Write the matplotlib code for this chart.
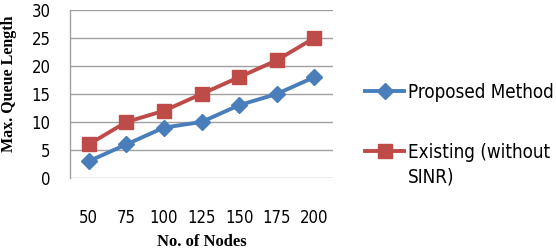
import matplotlib
matplotlib.use("Agg")
import matplotlib.pyplot as plt
from matplotlib import font_manager
from matplotlib.lines import Line2D

nodes = ["50", "75", "100", "125", "150", "175", "200"]
proposed = [3, 6, 9, 10, 13, 15, 18]
existing = [6, 10, 12, 15, 18, 21, 25]
yticks = [0, 5, 10, 15, 20, 25, 30]
label_proposed = "Proposed Method"
label_existing_1 = "Existing (without"
label_existing_2 = "SINR)"
xlabel = "No. of Nodes"
ylabel = "Max. Queue Length"

BLUE = "#4A7EBB"
RED = "#BE4B48"
GRID = "#A0A0A0"

# find condensed DejaVu Sans if available
cond_path = None
for f in font_manager.fontManager.ttflist:
    if f.name == "DejaVu Sans" and str(f.stretch) in ("condensed", "semi-condensed", "75", "87") and f.weight in (400, "normal") and f.style == "normal":
        cond_path = f.fname
        break
    if f.name == "DejaVu Sans Condensed" and f.style == "normal" and f.weight in (400, "normal"):
        cond_path = f.fname
        break

if cond_path:
    def sans(size):
        return font_manager.FontProperties(fname=cond_path, size=size)
    tick_size, leg_size = 12, 13.5
else:
    def sans(size):
        return font_manager.FontProperties(family="DejaVu Sans", size=size)
    tick_size, leg_size = 11, 12

serif_bold = font_manager.FontProperties(family="Liberation Serif", weight="bold", size=11.5)

W, H = 556, 250
fig = plt.figure(figsize=(W / 100, H / 100), dpi=100)
ax = fig.add_axes([70 / W, 1 - 178 / H, (333 - 70) / W, (178 - 10) / H])

x = list(range(len(nodes)))
ax.plot(x, existing, color=RED, lw=2.8, marker="s", ms=10.5, mfc=RED, mec=RED, zorder=3)
ax.plot(x, proposed, color=BLUE, lw=2.8, marker="D", ms=8, mfc=BLUE, mec=BLUE, zorder=4)

ax.set_xlim(-0.5, len(nodes) - 0.5)
ax.set_ylim(0, 30)
ax.set_yticks(yticks)
ax.set_xticks(x)
ax.set_xticklabels(nodes)
for lab in ax.get_xticklabels() + ax.get_yticklabels():
    lab.set_fontproperties(sans(tick_size))
ax.tick_params(axis="y", length=0, pad=14)
ax.tick_params(axis="x", length=0, pad=22)
ax.yaxis.grid(True, color=GRID, lw=1)
ax.set_axisbelow(True)
for s in ("top", "right", "bottom"):
    ax.spines[s].set_visible(False)
ax.spines["left"].set_color(GRID)
ax.spines["left"].set_linewidth(1)
ax.patch.set_visible(False)

xl_fp = serif_bold.copy()
xl_fp.set_size(12)
fig.text(202 / W, 1 - 245.5 / H, xlabel, fontproperties=xl_fp, ha="center", va="baseline")
fig.text(9 / W, 1 - 84 / H, ylabel, fontproperties=serif_bold, rotation=90, ha="center", va="center")

# legend drawn manually
def leg_handle(yc, color, marker, ms):
    y = 1 - yc / H
    fig.add_artist(Line2D([365 / W, 404 / W], [y, y], transform=fig.transFigure, color=color, lw=2.8))
    fig.add_artist(Line2D([384.5 / W], [y], transform=fig.transFigure, marker=marker, ms=ms, color=color, mfc=color, mec=color, lw=0))

leg_handle(91, BLUE, "D", 8)
leg_handle(151, RED, "s", 10.5)
fig.text(408 / W, 1 - 98 / H, label_proposed, fontproperties=sans(leg_size), ha="left", va="baseline")
fig.text(408 / W, 1 - 157.5 / H, label_existing_1, fontproperties=sans(leg_size), ha="left", va="baseline")
fig.text(408 / W, 1 - 182.5 / H, label_existing_2, fontproperties=sans(leg_size), ha="left", va="baseline")

fig.savefig("out.png", dpi=100)
